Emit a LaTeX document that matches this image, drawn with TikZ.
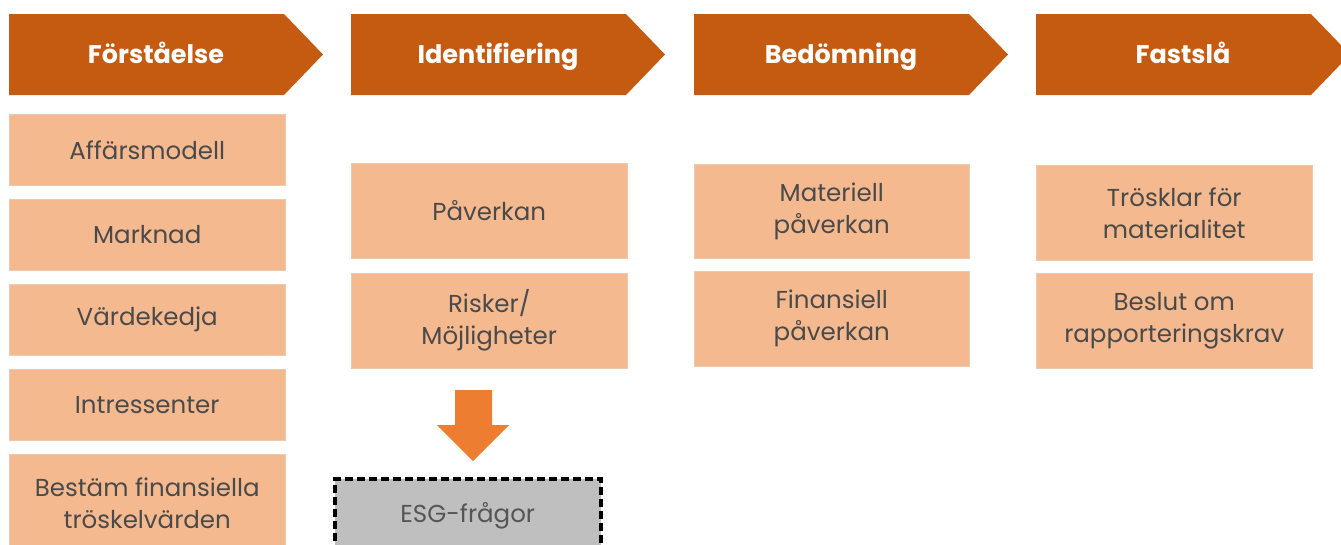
\documentclass[tikz,border=0pt]{standalone}
\usepackage{fontspec}
\setmainfont{Poppins}
\begin{document}
\begin{tikzpicture}[x=1pt,y=-1pt,
  hdrtext/.style={text=white,font=\fontsize{25.5}{28}\selectfont\bfseries,inner sep=0pt,anchor=base},
  itembox/.style={fill=itm,draw=itmedge,line width=0.5pt,text=txt,align=center,font=\fontsize{24.5}{32}\selectfont,inner sep=0pt,anchor=north west},
  esgbox/.style={fill=esg,draw=black,dash pattern=on 8pt off 4pt,line width=3.5pt,text=txtg,align=center,font=\fontsize{24.5}{32}\selectfont,inner sep=0pt,anchor=north west},
]
\definecolor{hdr}{HTML}{C55A11}
\definecolor{itm}{HTML}{F5B98F}
\definecolor{itmedge}{HTML}{EBC8B0}
\definecolor{txt}{HTML}{4A4A4A}
\definecolor{txtg}{HTML}{555555}
\definecolor{esg}{HTML}{BFBFBF}
\definecolor{arr}{HTML}{ED7D31}
\useasboundingbox (0,0) rectangle (1341,544);
\clip (0,0) rectangle (1341,544);
% headers
\foreach \x/\nm/\t in {9/h1/Förståelse,351/h2/Identifiering,694/h3/Bedömning,1036/h4/Fastslå}{
  \fill[hdr] (\x,14) -- ++(275,0) -- ++(39,40.5) -- ++(-39,40.5) -- ++(-275,0) -- cycle;
  \node[hdrtext] (\nm) at (\x+147,63) {\t};
}
% column 1
\node[itembox,minimum width=276pt,minimum height=71pt] (a1) at (9,114) {Affärsmodell};
\node[itembox,minimum width=276pt,minimum height=71pt] (a2) at (9,199) {Marknad};
\node[itembox,minimum width=276pt,minimum height=71pt] (a3) at (9,284) {Värdekedja};
\node[itembox,minimum width=276pt,minimum height=71pt] (a4) at (9,369) {Intressenter};
\node[itembox,minimum width=276pt,minimum height=97pt] (a5) at (9,454) {Bestäm finansiella\\tröskelvärden};
% column 2
\node[itembox,minimum width=276pt,minimum height=95pt] (b1) at (351,163) {Påverkan};
\node[itembox,minimum width=276pt,minimum height=95pt] (b2) at (351,273) {Risker/\\Möjligheter};
\node[esgbox,minimum width=266pt,minimum height=74pt] (esg) at (333,477) {ESG-frågor};
\fill[arr] (455,390) -- (492,390) -- (492,425) -- (509,425) -- (473,461) -- (437,425) -- (455,425) -- cycle;
% column 3
\node[itembox,minimum width=275pt,minimum height=94pt] (c1) at (694,164) {Materiell\\påverkan};
\node[itembox,minimum width=275pt,minimum height=95pt] (c2) at (694,271) {Finansiell\\påverkan};
% column 4
\node[itembox,minimum width=276pt,minimum height=95pt] (d1) at (1036,165) {Trösklar för\\materialitet};
\node[itembox,minimum width=276pt,minimum height=95pt] (d2) at (1036,273) {Beslut om\\rapporteringskrav};
\end{tikzpicture}
\end{document}
